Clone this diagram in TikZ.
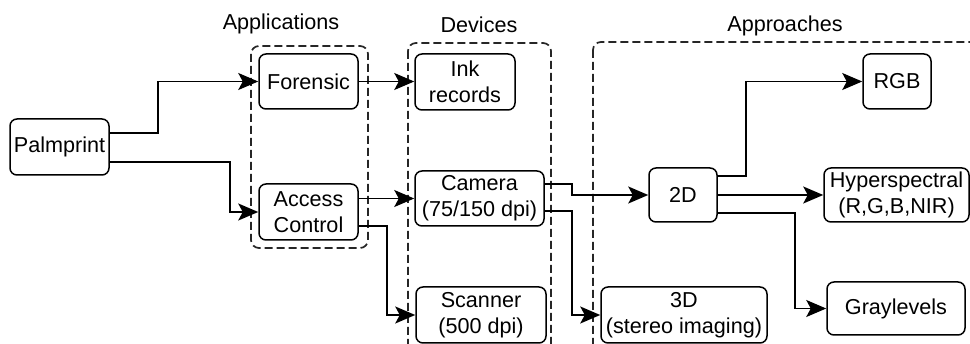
\documentclass[tikz,border=0pt]{standalone}
\usepackage{fontspec}
\setmainfont{Liberation Sans}
\usetikzlibrary{arrows.meta}

\tikzset{
  box/.style={draw=black, line width=1.5pt, rounded corners=7pt, rectangle,
    inner sep=0pt, align=center, fill=white,
    font=\fontsize{21.6}{26}\selectfont},
  group/.style={draw=black!85, line width=1.7pt, rounded corners=8pt,
    dash pattern=on 8pt off 4pt},
  grouplabel/.style={anchor=base, font=\fontsize{21.6}{26}\selectfont},
  tip/.tip={Stealth[length=20pt, width=17pt, inset=4.5pt]},
  link/.style={line width=1.5pt, -tip},
}

\begin{document}
\begin{tikzpicture}[x=1pt, y=-1pt]
  \useasboundingbox (0,0) rectangle (970,344);
  \clip (0,0) rectangle (970,344);

  % dashed groups
  \draw[group] (251,46) rectangle (368,248);
  \draw[group] (408,43) rectangle (551,370);
  \draw[group] (593,42) rectangle (1000,370);

  \node[grouplabel] (lapp) at (281,30) {Applications};
  \node[grouplabel] (ldev) at (479,33) {Devices};
  \node[grouplabel] (lappr) at (785,32) {Approaches};

  % nodes
  \node[box, minimum width=99pt, minimum height=56pt] (palm) at (59.5,147) {Palmprint};
  \node[box, minimum width=99pt, minimum height=55pt] (foren) at (308.5,81.5) {Forensic};
  \node[box, minimum width=99pt, minimum height=56pt] (access) at (308.5,212) {Access\\Control};
  \node[box, minimum width=100pt, minimum height=56pt] (ink) at (465,82) {Ink\\records};
  \node[box, minimum width=129pt, minimum height=55pt] (camera) at (479.5,198.5) {Camera\\(75/150 dpi)};
  \node[box, minimum width=130pt, minimum height=56pt] (scanner) at (481,315) {Scanner\\(500 dpi)};
  \node[box, minimum width=68pt, minimum height=54pt] (twod) at (683,195) {2D};
  \node[box, minimum width=166pt, minimum height=56pt] (threed) at (684,315) {3D\\(stereo imaging)};
  \node[box, minimum width=68pt, minimum height=55pt] (rgb) at (897,81.5) {RGB};
  \node[box, minimum width=145pt, minimum height=54pt] (hyper) at (896.5,195) {Hyperspectral\\(R,G,B,NIR)};
  \node[box, minimum width=138pt, minimum height=53pt] (gray) at (896,308.5) {Graylevels};

  % connectors
  \draw[link] (palm.east |- 0,133) -| (158,81.5) -- (foren.west);
  \draw[link] (palm.east |- 0,162) -| (230,212) -- (access.west);
  \draw[link] (foren.east) -- (ink.west |- foren.east);
  \draw[link] (access.east |- 0,198.5) -- (camera.west);
  \draw[link] (access.east |- 0,226) -| (387,315) -- (scanner.west);
  \draw[link] (camera.east |- 0,184) -| (572,195) -- (twod.west);
  \draw[link] (camera.east |- 0,211) -| (572,315) -- (threed.west);
  \draw[link] (twod.east |- 0,176) -| (746,81.5) -- (rgb.west);
  \draw[link] (twod.east) -- (hyper.west);
  \draw[link] (twod.east |- 0,213) -| (795,308.5) -- (gray.west);
\end{tikzpicture}
\end{document}
